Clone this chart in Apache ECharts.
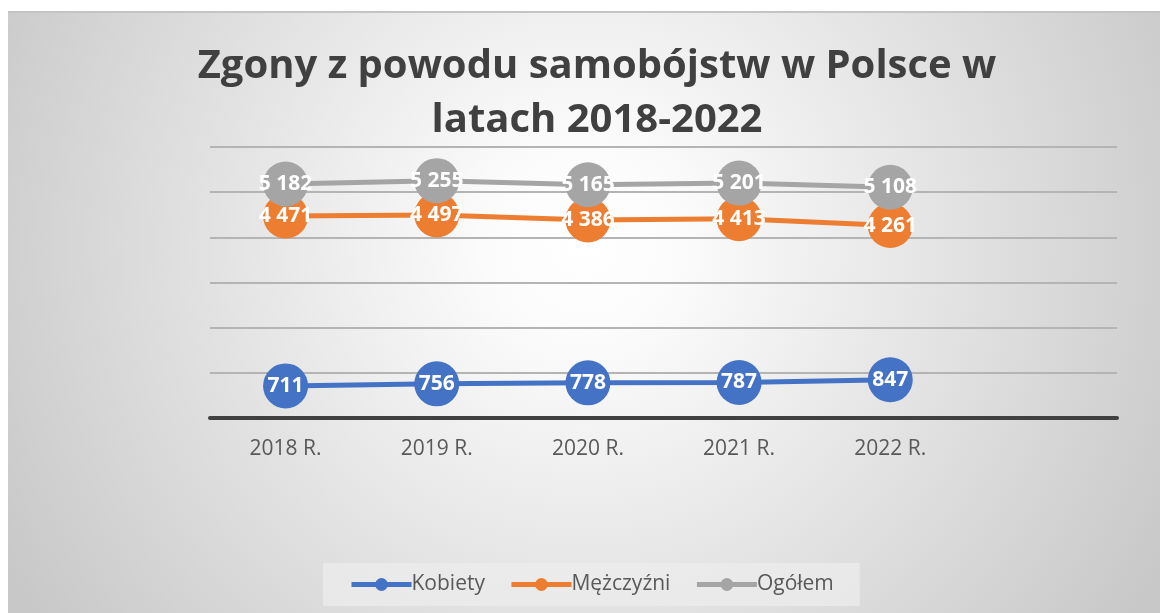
<!DOCTYPE html>
<html>
<head>
<meta charset="utf-8">
<script src="https://cdn.jsdelivr.net/npm/echarts@6/dist/echarts.min.js"></script>
<style>
html,body{margin:0;padding:0;background:#fff;}
#chart{position:absolute;left:8px;top:11px;width:1152px;height:602px;border-top:2px solid #c4c4c4;}
</style>
</head>
<body>
<div id="chart"></div>
<script type="text/javascript">
var years = ['2018 R.', '2019 R.', '2020 R.', '2021 R.', '2022 R.', ''];
var kobiety = [711, 756, 778, 787, 847];
var mezczyzni = [4471, 4497, 4386, 4413, 4261];
var ogolem = [5182, 5255, 5165, 5201, 5108];
var yTicks = [0, 1000, 2000, 3000, 4000, 5000, 6000];

var seriesDefs = [
    {text: 'Kobiety', color: '#4472c4', data: kobiety},
    {text: 'Mężczyźni', color: '#ed7d31', data: mezczyzni},
    {text: 'Ogółem', color: '#a5a5a5', data: ogolem}
];

function fmt(v){
    return String(v).replace(/\B(?=(\d{3})+(?!\d))/g, ' ');
}

var myChart = echarts.init(document.getElementById('chart'));

function lineSetData(defs){
    var out = [];
    for(var i = 0; i < defs.length; i++){
        var d = defs[i];
        out.push({
            name: d.text,
            type: 'line',
            data: d.data,
            symbol: 'circle',
            symbolSize: 45,
            lineStyle: {width: 5, color: d.color},
            itemStyle: {color: d.color},
            label: {
                show: true,
                position: 'inside',
                color: '#fff',
                fontWeight: 'bold',
                fontSize: 21,
                fontFamily: 'Open Sans',
                formatter: function(p){ return fmt(p.value); }
            },
            z: 2 + i
        });
    }
    return out;
}

var option = {
    backgroundColor: {
        type: 'radial', x: 0.5, y: 0.38, r: 1.1,
        colorStops: [{offset: 0, color: '#ffffff'}, {offset: 0.15, color: '#fbfbfb'}, {offset: 1, color: '#c8c8c8'}]
    },
    animation: false,
    title: {
        text: 'Zgony z powodu samobójstw w Polsce w\nlatach 2018-2022',
        left: 584,
        textAlign: 'center',
        top: 22,
        textStyle: {
            fontFamily: 'Open Sans',
            fontWeight: 'bold',
            fontSize: 40,
            lineHeight: 54,
            color: '#404040'
        }
    },
    legend: {
        bottom: 9,
        left: 315,
        itemWidth: 60,
        itemHeight: 16,
        itemGap: 24,
        padding: [11, 26, 11, 26],
        backgroundColor: 'rgba(236,236,236,0.75)',
        lineStyle: {width: 5},
        textStyle: {fontSize: 21, color: '#595959', fontFamily: 'Open Sans', padding: [0, 0, 0, -5]},
        data: ['Kobiety', 'Mężczyźni', 'Ogółem']
    },
    grid: {left: 202, right: 43, top: 134, bottom: 197},
    xAxis: {
        type: 'category',
        data: years,
        boundaryGap: true,
        axisTick: {show: false},
        axisLine: {lineStyle: {color: '#404040', width: 4}},
        axisLabel: {color: '#595959', fontSize: 21, fontFamily: 'Open Sans', margin: 21}
    },
    yAxis: {
        type: 'value',
        min: yTicks[0],
        max: yTicks[yTicks.length - 1],
        interval: 1000,
        axisLabel: {show: false},
        axisLine: {show: false},
        axisTick: {show: false},
        splitLine: {lineStyle: {color: '#b4b4b4', width: 2}}
    },
    series: lineSetData(seriesDefs)
};
myChart.setOption(option);
</script>
</body>
</html>
